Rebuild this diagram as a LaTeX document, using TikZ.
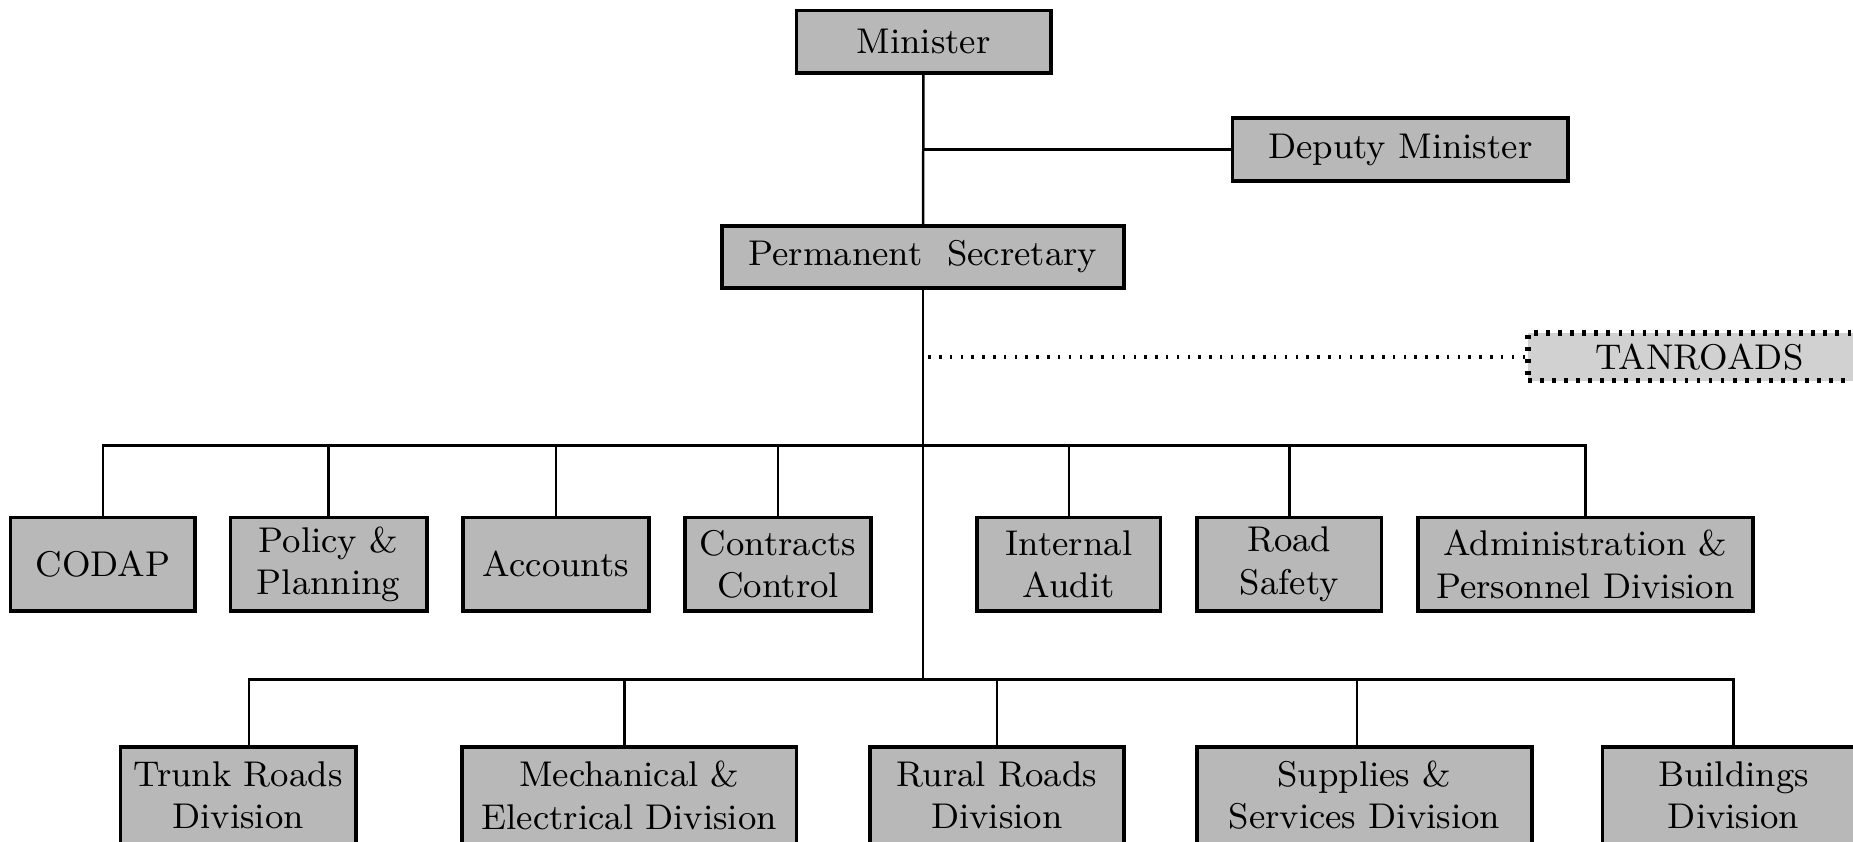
\documentclass[tikz,border=0pt]{standalone}
\usepackage{tikz}

\begin{document}
\begin{tikzpicture}[x=0.01cm,y=-0.01cm,
    office/.style={draw=black,line width=0.9pt,fill=black!28,rectangle,align=center,
        inner sep=1pt,font=\fontsize{8.6}{10.2}\selectfont},
    agency/.style={office,dotted,line width=1.4pt,fill=black!18},
    link/.style={line width=0.6pt}]
    \useasboundingbox (0,0) rectangle (1568,712);
    \clip (0,0) rectangle (1568,712);

    % top of the ministry
    \node[office,minimum width=2.15cm,minimum height=0.53cm] (minister) at (781.5,35.5) {Minister};
    \node[office,minimum width=2.84cm,minimum height=0.53cm] (deputy) at (1185,126.5) {Deputy Minister};
    \node[office,minimum width=3.40cm,minimum height=0.53cm] (ps) at (781,217.5) {Permanent\ \ Secretary};
    \node[agency,minimum width=2.90cm,minimum height=0.40cm] (tanroads) at (1438,302) {TANROADS};

    % units
    \node[office,minimum width=1.56cm,minimum height=0.79cm] (codap) at (87,477.5) {CODAP};
    \node[office,minimum width=1.66cm,minimum height=0.79cm] (policy) at (278,477.5) {Policy \&\\Planning};
    \node[office,minimum width=1.57cm,minimum height=0.79cm] (accounts) at (470.5,477.5) {Accounts};
    \node[office,minimum width=1.57cm,minimum height=0.79cm] (contracts) at (658.5,477.5) {Contracts\\Control};
    \node[office,minimum width=1.55cm,minimum height=0.79cm] (audit) at (904.5,477.5) {Internal\\Audit};
    \node[office,minimum width=1.56cm,minimum height=0.79cm] (safety) at (1091,477.5) {Road\\Safety};
    \node[office,minimum width=2.83cm,minimum height=0.79cm] (admin) at (1341.5,477.5) {Administration \&\\Personnel Division};

    % divisions
    \node[office,minimum width=1.99cm,minimum height=0.82cm] (trunk) at (201.5,673) {Trunk Roads\\Division};
    \node[office,minimum width=2.83cm,minimum height=0.82cm] (mech) at (532.5,673) {Mechanical \&\\Electrical Division};
    \node[office,minimum width=2.15cm,minimum height=0.82cm] (rural) at (843.5,673) {Rural Roads\\Division};
    \node[office,minimum width=2.83cm,minimum height=0.82cm] (supplies) at (1154.5,673) {Supplies \&\\Services Division};
    \node[office,minimum width=2.22cm,minimum height=0.82cm] (buildings) at (1467,673) {Buildings\\Division};

    \coordinate (busA) at (781,377);
    \coordinate (busB) at (781,575);

    \draw[link] (minister) -- (ps);
    \draw[link] (deputy.west) -- (deputy.west -| minister.south);
    \draw[link] (ps) -- (busB);
    \draw[link,dotted,line width=0.8pt] (tanroads.west) -- (tanroads.west -| ps.south);

    \foreach \n in {codap,policy,accounts,contracts,audit,safety,admin}{
        \draw[link] (\n.north) |- (busA);
    }
    \foreach \n/\dx in {trunk/0.09,mech/-0.04,rural/0,supplies/-0.06,buildings/0}{
        \draw[link] ([xshift=\dx cm]\n.north) |- (busB);
    }
\end{tikzpicture}
\end{document}
